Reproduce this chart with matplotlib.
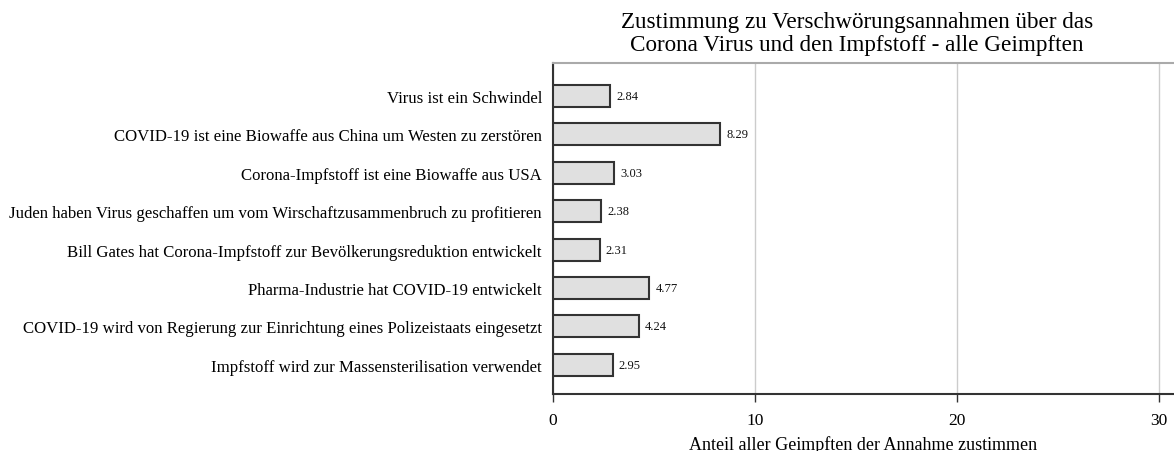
import numpy as np
import matplotlib.pyplot as plt

plt.rcParams['font.family'] = ['Liberation Serif', 'DejaVu Serif']

labels = ['Virus ist ein Schwindel',
          'COVID-19 ist eine Biowaffe aus China um Westen zu zerstören',
          'Corona-Impfstoff ist eine Biowaffe aus USA',
          'Juden haben Virus geschaffen um vom Wirschaftzusammenbruch zu profitieren',
          'Bill Gates hat Corona-Impfstoff zur Bevölkerungsreduktion entwickelt',
          'Pharma-Industrie hat COVID-19 entwickelt',
          'COVID-19 wird von Regierung zur Einrichtung eines Polizeistaats eingesetzt',
          'Impfstoff wird zur Massensterilisation verwendet']
values = [2.84, 8.29, 3.03, 2.38, 2.31, 4.77, 4.24, 2.95]
xticks = [0, 10, 20, 30]

fig = plt.figure(figsize=(11.74, 4.52), dpi=100)
ax = fig.add_axes([553/1174, 1-395/452, 1-553/1174, (395-64)/452])

y = np.arange(len(labels))
ax.barh(y, values, height=0.57, color='#e0e0e0', edgecolor='#333333', linewidth=1.5, zorder=3)
for yi, v in zip(y, values):
    ax.text(v + 0.3, yi, f'{v:.2f}', va='center', ha='left', fontsize=9, color='#111111')

ax.set_yticks(y)
ax.set_yticklabels(labels, fontsize=12.1)
ax.set_xticks(xticks)
ax.set_xticklabels([str(t) for t in xticks], fontsize=12.5)
ax.set_xlim(0, 30.75)
ax.set_ylim(7.76, -0.86)
ax.tick_params(axis='y', length=0, pad=8)
ax.tick_params(axis='x', length=6, width=1, color='#333333', pad=7)
ax.grid(axis='x', color='#cccccc', linewidth=1, zorder=0)
for s in ['left', 'bottom']:
    ax.spines[s].set_color('#333333')
    ax.spines[s].set_linewidth(1.5)
ax.spines['top'].set_color('#aaaaaa')
ax.spines['top'].set_linewidth(1.5)
ax.spines['right'].set_visible(False)

ax.set_xlabel('Anteil aller Geimpften der Annahme zustimmen', fontsize=13, labelpad=5)
fig.text(857/1174, 1-12/452, 'Zustimmung zu Verschwörungsannahmen über das\nCorona Virus und den Impfstoff - alle Geimpften',
         ha='center', va='top', fontsize=16.7, linespacing=1.1)

fig.savefig('out.png', dpi=100)
